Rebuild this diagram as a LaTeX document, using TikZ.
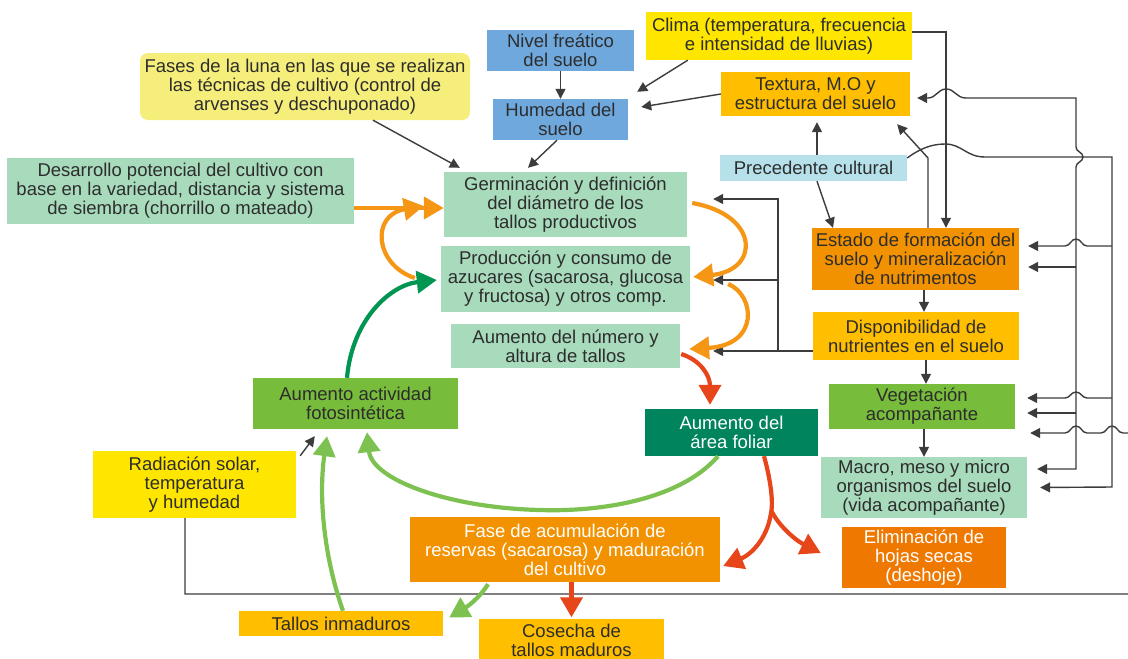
\documentclass[tikz,border=0pt]{standalone}
\usepackage{fontspec}
\setmainfont{Liberation Sans}
\usetikzlibrary{arrows.meta}
\definecolor{cblue}{RGB}{111,168,220}
\definecolor{cyel}{RGB}{255,230,0}
\definecolor{camb}{RGB}{255,190,0}
\definecolor{cprec}{RGB}{183,225,234}
\definecolor{cfase}{RGB}{245,238,122}
\definecolor{clgr}{RGB}{168,219,188}
\definecolor{corg}{RGB}{243,146,0}
\definecolor{celim}{RGB}{239,120,0}
\definecolor{cveg}{RGB}{119,188,58}
\definecolor{cfol}{RGB}{0,132,94}
\definecolor{aorg}{RGB}{245,150,20}
\definecolor{ared}{RGB}{230,70,25}
\definecolor{algr}{RGB}{125,194,80}
\definecolor{adgr}{RGB}{0,150,82}
\definecolor{lncol}{RGB}{60,60,60}
\definecolor{txt}{RGB}{45,45,45}
\begin{document}
\begin{tikzpicture}[x=1pt,y=-1pt,
  box/.style={inner sep=0pt, align=center, text=txt, font=\fontsize{18.5}{19}\selectfont},
  wbox/.style={box, text=white},
  ln/.style={draw=lncol, line width=1.4pt},
  tarr/.style={ln, -{Triangle[length=10pt,width=10pt]}},
  tarr2/.style={ln, {Triangle[length=10pt,width=10pt]}-{Triangle[length=10pt,width=10pt]}},
  carr/.style={line width=4.2pt, -{Triangle[length=20pt,width=22pt]}},
  oarr/.style={carr, draw=aorg},
  rarr/.style={carr, draw=ared},
  garr/.style={carr, draw=algr},
  darr/.style={carr, draw=adgr}]
\fill[white] (0,0) rectangle (1128,659);
\useasboundingbox (0,0) rectangle (1128,659);

% boxes
\node[box, fill=cblue, minimum width=147pt, minimum height=41pt] (nivel) at (560.5,50.5) {Nivel freático\\del suelo};
\node[box, fill=cblue, minimum width=135pt, minimum height=41pt] (humedad) at (560.5,119.5) {Humedad del\\suelo};
\node[box, fill=cyel, minimum width=266pt, minimum height=48pt] (clima) at (779,36) {Clima (temperatura, frecuencia\\e intensidad de lluvias)};
\node[box, fill=camb, minimum width=189pt, minimum height=44pt] (textura) at (815.5,94) {Textura, M.O y\\estructura del suelo};
\node[box, fill=cprec, minimum width=187pt, minimum height=26pt] (precedente) at (813.5,168) {Precedente cultural};
\node[box, fill=cfase, rounded corners=8pt, minimum width=330pt, minimum height=67pt] (fases) at (305,86.5) {Fases de la luna en las que se realizan\\las técnicas de cultivo (control de\\arvenses y deschuponado)};
\node[box, fill=clgr, minimum width=347pt, minimum height=66pt] (desarrollo) at (180.5,191) {Desarrollo potencial del cultivo con\\base en la variedad, distancia y sistema\\de siembra (chorrillo o mateado)};
\node[box, fill=clgr, minimum width=243pt, minimum height=65pt] (germ) at (565.5,204.5) {Germinación y definición\\del diámetro de los\\tallos productivos};
\node[box, fill=clgr, minimum width=249pt, minimum height=66pt] (prod) at (565.5,279) {Producción y consumo de\\azucares (sacarosa, glucosa\\y fructosa) y otros comp.};
\node[box, fill=clgr, minimum width=229pt, minimum height=44pt] (aumnum) at (565.5,346) {Aumento del número y\\altura de tallos};
\node[box, fill=corg, minimum width=207pt, minimum height=62pt] (estado) at (915.5,259) {Estado de formación del\\suelo y mineralización\\de nutrimentos};
\node[box, fill=camb, minimum width=206pt, minimum height=48pt] (dispon) at (916,336) {Disponibilidad de\\nutrientes en el suelo};
\node[box, fill=cveg, minimum width=186pt, minimum height=45pt] (veget) at (922,406.5) {Vegetación\\acompañante};
\node[box, fill=clgr, minimum width=206pt, minimum height=61pt] (macro) at (924,487.5) {Macro, meso y micro\\organismos del suelo\\(vida acompañante)};
\node[wbox, fill=cfol, minimum width=173pt, minimum height=47pt] (foliar) at (731.5,432.5) {Aumento del\\área foliar};
\node[wbox, fill=corg, minimum width=310pt, minimum height=65pt] (fase) at (565,549.5) {Fase de acumulación de\\reservas (sacarosa) y maduración\\del cultivo};
\node[wbox, fill=celim, minimum width=164pt, minimum height=61pt] (elim) at (924,557.5) {Eliminación de\\hojas secas\\(deshoje)};
\node[box, fill=camb, minimum width=185pt, minimum height=44pt] (cosecha) at (571.5,640.5) {Cosecha de\\tallos maduros};
\node[box, fill=camb, minimum width=204pt, minimum height=25pt] (tallos) at (341,623.5) {Tallos inmaduros};
\node[box, fill=cyel, minimum width=203pt, minimum height=67pt] (radiacion) at (194.5,484.5) {Radiación solar,\\temperatura\\y humedad};
\node[box, fill=cveg, minimum width=205pt, minimum height=51pt] (fotosint) at (355.5,403.5) {Aumento actividad\\fotosintética};

% thin black connectors
\draw[tarr] (nivel.south) -- (humedad.north);
\draw[tarr] ([xshift=42pt]clima.south west) -- ([shift={(9pt,7pt)}]humedad.north east);
\draw[tarr] (textura.west) -- ([shift={(13pt,12.5pt)}]humedad.east);
\draw[tarr] ([xshift=-3.5pt]humedad.south) -- ([shift={(-37.5pt,4pt)}]germ.north);
\draw[tarr] ([xshift=68pt]fases.south) -- ([shift={(16pt,4pt)}]germ.north west);
\draw[tarr] ([xshift=3.5pt]precedente.north) -- ([shift={(1.5pt,-6pt)}]textura.south);
\draw[tarr] ([xshift=3.5pt]precedente.south) -- ([xshift=-82.5pt]estado.north);
\draw[tarr] ([xshift=12.5pt]estado.north) -- (928,158) -- ([shift={(-13pt,-8pt)}]textura.south east);
\draw[tarr] ([yshift=4pt]clima.east) -| ([xshift=30.5pt]estado.north);
\draw[tarr] ([xshift=8.5pt]estado.south) -- ([xshift=8pt]dispon.north);
\draw[tarr] ([xshift=10pt]dispon.south) -- ([xshift=4pt]veget.north);
\draw[tarr] ([xshift=2pt]veget.south) -- (macro.north);
\draw[tarr] ([shift={(4pt,-5pt)}]radiacion.north east) -- ([shift={(62pt,-7pt)}]fotosint.south west);

% nutrient availability bus
\draw[tarr] ([yshift=-15pt]dispon.west) -- ([shift={(33pt,-5pt)}]aumnum.east);
\draw[tarr] (778,351) -- (778,199) -- ([shift={(26pt,5.5pt)}]germ.east);
\draw[tarr] (778,280) -- ([shift={(23pt,-1pt)}]prod.east);

% right bus A
\draw[tarr2] ([shift={(7pt,-4pt)}]textura.east) -- (928,98)
  .. controls (936,98) and (938,89) .. (946,89)
  .. controls (955,89) and (956,98) .. (966,98) -- (1076,98) -- (1076,147)
  .. controls (1076,152) and (1083,152) .. (1083,157)
  .. controls (1083,162) and (1076,162) .. (1076,167)
  -- (1076,469) -- ([shift={(10pt,18.5pt)}]macro.east);
\draw[tarr] (1076,267) -- ([shift={(9pt,-8pt)}]estado.east);
\draw[tarr] (1076,413) -- ([shift={(12pt,-6.5pt)}]veget.east);

% right bus B (from Precedente cultural)
\draw[tarr] ([yshift=10pt]precedente.east) .. controls (918,150) and (930,144) .. (945,144)
  .. controls (962,144) and (966,157) .. (985,157) -- (1112,157) -- (1112,487)
  -- ([xshift=13pt]macro.east);
\draw[tarr] (1112,246) -- (1087,246) .. controls (1082,246) and (1081,239) .. (1076,239)
  .. controls (1071,239) and (1070,246) .. (1065,246) -- ([shift={(9pt,13pt)}]estado.east);
\draw[tarr] (1112,398) -- (1087,398) .. controls (1082,398) and (1081,392) .. (1076,392)
  .. controls (1071,392) and (1070,398) .. (1065,398) -- ([shift={(12pt,8.5pt)}]veget.east);

% bus C (from Radiacion)
\draw[tarr] ([xshift=-9.5pt]radiacion.south) -- (185,594) -- (1134,594) -- (1134,433) -- (1123,433)
  .. controls (1118,433) and (1117,426) .. (1112,426)
  .. controls (1107,426) and (1106,433) .. (1101,433) -- (1087,433)
  .. controls (1082,433) and (1081,426) .. (1076,426)
  .. controls (1071,426) and (1070,433) .. (1065,433) -- ([shift={(15pt,-26.5pt)}]veget.east);

% orange arrows
\draw[oarr] ([yshift=-17pt]desarrollo.east) -- ([yshift=-3.5pt]germ.west);
\draw[oarr] ([shift={(-26pt,1pt)}]prod.west) .. controls (375,265) and (370,215) .. ([shift={(-20pt,-1.5pt)}]germ.west);
\draw[oarr] ([shift={(5pt,1.5pt)}]germ.east) .. controls (760,215) and (760,270) .. ([shift={(3pt,2pt)}]prod.east);
\draw[oarr] ([shift={(38pt,-5pt)}]prod.east) .. controls (755,295) and (760,345) .. ([shift={(9pt,-3pt)}]aumnum.east);

% red arrows
\draw[rarr] ([shift={(1pt,-8pt)}]aumnum.east) .. controls (700,360) and (710,375) .. ([shift={(-21.5pt,4pt)}]foliar.north);
\draw[rarr] ([xshift=32.5pt]foliar.south) .. controls (772,485) and (773,505) .. (771,513)
  .. controls (767,540) and (750,555) .. ([shift={(3pt,-16.5pt)}]fase.east);
\draw[rarr] (771,510) .. controls (778,525) and (795,540) .. ([shift={(-21pt,4.5pt)}]elim.west);
\draw[rarr] ([xshift=6.5pt]fase.south) -- ([yshift=1pt]cosecha.north);

% light green arrows
\draw[garr] ([xshift=-13.5pt]foliar.south) .. controls (680,500) and (600,512) .. (540,510)
  .. controls (450,508) and (372,480) .. ([shift={(11.5pt,-3pt)}]fotosint.south);
\draw[garr] ([xshift=2pt]tallos.north) .. controls (325,560) and (318,500) .. ([shift={(-28.5pt,-7pt)}]fotosint.south);
\draw[garr] ([shift={(-77pt,-2pt)}]fase.south) .. controls (478,600) and (465,608) .. ([shift={(6pt,6pt)}]tallos.east);

% dark green arrow
\draw[darr] ([xshift=-8.5pt]fotosint.north) .. controls (352,320) and (390,285) .. ([shift={(-4pt,-1pt)}]prod.west);
\end{tikzpicture}
\end{document}
